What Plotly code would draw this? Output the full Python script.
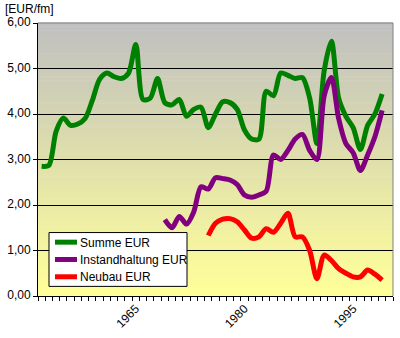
import plotly.graph_objects as go

# Jahresreihen (EUR je Festmeter)
years_summe = list(range(1952, 2000))
summe_eur = [2.85, 2.87, 3.62, 3.91, 3.75, 3.78, 3.90, 4.30, 4.76, 4.90,
             4.82, 4.78, 4.90, 5.53, 4.32, 4.35, 4.78, 4.25, 4.20, 4.32,
             3.95, 4.10, 4.15, 3.70, 4.00, 4.27, 4.25, 4.10, 3.65, 3.45,
             3.45, 4.50, 4.40, 4.90, 4.85, 4.78, 4.80, 4.35, 3.35, 4.95,
             5.60, 4.35, 3.95, 3.70, 3.22, 3.75, 4.00, 4.44]

years_instand = list(range(1969, 2000))
instand_eur = [1.68, 1.50, 1.75, 1.58, 1.85, 2.40, 2.35, 2.60, 2.58, 2.55,
               2.45, 2.22, 2.17, 2.22, 2.30, 3.10, 3.00, 3.20, 3.45, 3.55,
               3.20, 3.00, 4.40, 4.80, 3.90, 3.35, 3.15, 2.76, 3.10, 3.50,
               4.08]

years_neubau = list(range(1975, 2000))
neubau_eur = [1.33, 1.60, 1.69, 1.70, 1.63, 1.45, 1.27, 1.30, 1.48, 1.40,
              1.60, 1.82, 1.30, 1.30, 1.00, 0.38, 0.90, 0.78, 0.60, 0.50,
              0.42, 0.42, 0.57, 0.48, 0.35]

tick_years = [1965, 1980, 1995]
tick_text = ["1965", "1980", "1995"]

FONT = "Liberation Sans, Arial, sans-serif"
FS = 12

# plot area in pixels
L, R, T, B = 38, 7, 23, 31
W, H = 400, 338
PW, PH = W - L - R, H - T - B


def px_x(px):
    return (px - L) / PW


def px_y(py):
    return (H - B - py) / PH


fig = go.Figure()

series = [
    ("Summe EUR", years_summe, summe_eur, "#008000"),
    ("Instandhaltung EUR", years_instand, instand_eur, "#800080"),
    ("Neubau EUR", years_neubau, neubau_eur, "#ff0000"),
]
for name, xs, ys, color in series:
    fig.add_trace(go.Scatter(
        x=xs, y=ys, name=name, mode="lines", showlegend=False,
        line=dict(color=color, width=5, shape="spline", smoothing=0.8),
    ))

# vertical gradient behind the plot area: grey at the top, pale yellow at the bottom
top_rgb = (192, 192, 192)
bot_rgb = (255, 255, 153)
n_bands = 71
shapes = []
for i in range(n_bands):
    t = i / (n_bands - 1)
    c = tuple(round(b + (tp - b) * t) for tp, b in zip(top_rgb, bot_rgb))
    shapes.append(dict(
        type="rect", xref="x domain", yref="y domain",
        x0=0, x1=1, y0=i / n_bands, y1=(i + 1) / n_bands + 0.002,
        fillcolor="rgb(%d,%d,%d)" % c, line=dict(width=0), layer="below",
    ))
# grey frame on top and right of the plot area
shapes.append(dict(type="line", xref="x domain", yref="y domain",
                   x0=0, x1=1, y0=1, y1=1, line=dict(color="#808080", width=1),
                   layer="above"))
shapes.append(dict(type="line", xref="x domain", yref="y domain",
                   x0=1, x1=1, y0=0, y1=1, line=dict(color="#808080", width=1),
                   layer="above"))

# legend box with short line samples
annotations = []
shapes.append(dict(type="rect", xref="paper", yref="paper",
                   x0=px_x(49), x1=px_x(187), y0=px_y(297), y1=px_y(241),
                   fillcolor="white", line=dict(color="black", width=1),
                   layer="above"))
for k, (name, _, _, color) in enumerate(series):
    ry = 251 + 18 * k
    shapes.append(dict(type="line", xref="paper", yref="paper",
                       x0=px_x(55), x1=px_x(77), y0=px_y(ry), y1=px_y(ry),
                       line=dict(color=color, width=5), layer="above"))
    annotations.append(dict(
        text=name, xref="paper", yref="paper", x=px_x(78), y=px_y(ry + 0.5),
        xanchor="left", yanchor="middle", showarrow=False,
        font=dict(family=FONT, size=FS, color="black"),
    ))

# unit label above the value axis
annotations.append(dict(
    text="[EUR/fm]", xref="paper", yref="paper",
    x=px_x(3), y=px_y(8.5), xanchor="left", yanchor="middle",
    showarrow=False, font=dict(family=FONT, size=FS, color="black"),
))

fig.update_layout(
    width=W, height=H,
    margin=dict(l=L, r=R, t=T, b=B),
    paper_bgcolor="white",
    plot_bgcolor="rgba(0,0,0,0)",
    separators=",.",
    font=dict(family=FONT, size=FS, color="black"),
    shapes=shapes,
    annotations=annotations,
    showlegend=False,
)

fig.update_xaxes(
    range=[1951.5, 2000.5],
    tickmode="array", tickvals=tick_years, ticktext=tick_text,
    tickangle=-45, ticks="", showgrid=False, zeroline=False,
    showline=True, linecolor="black", linewidth=1,
    minor=dict(ticks="outside", dtick=1, tick0=1951.5, ticklen=4,
               tickcolor="black", showgrid=False),
    tickfont=dict(family=FONT, size=FS, color="black"),
)
fig.update_yaxes(
    range=[0, 6], dtick=1, tickformat=".2f",
    ticks="outside", ticklen=4, tickcolor="black",
    ticklabelshift=-1,
    showgrid=True, gridcolor="black", gridwidth=1, zeroline=False,
    showline=True, linecolor="black", linewidth=1,
    tickfont=dict(family=FONT, size=FS, color="black"),
)

fig.write_html("out.html")
